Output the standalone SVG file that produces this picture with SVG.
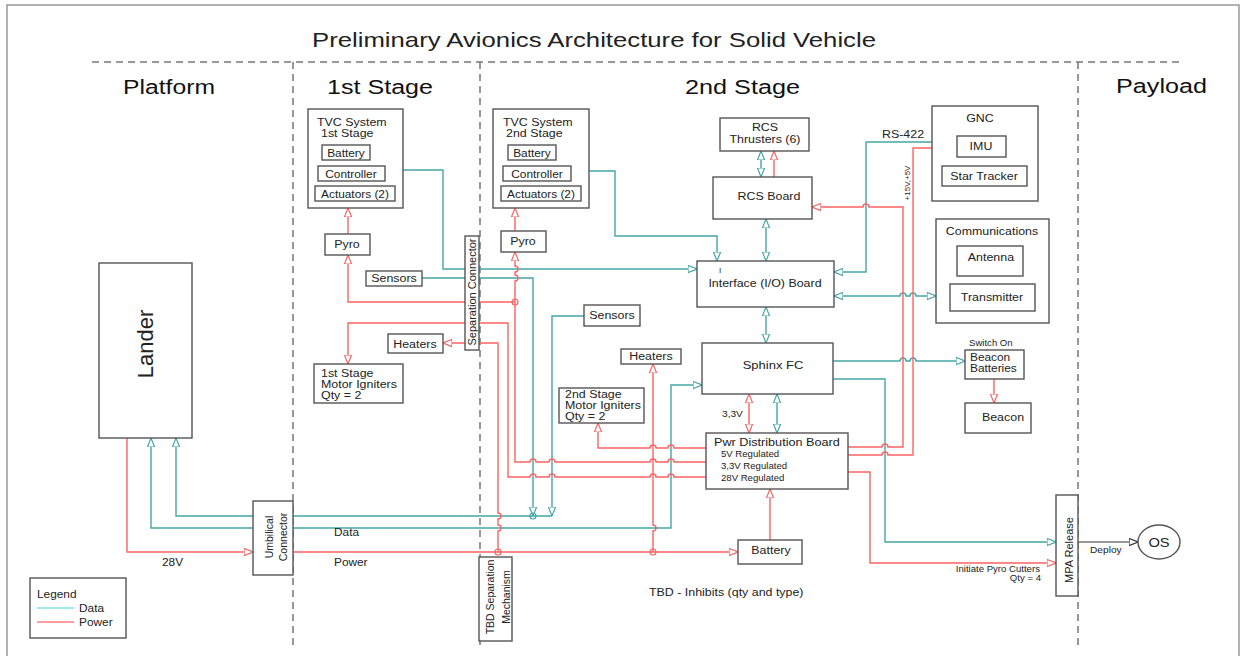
<svg xmlns="http://www.w3.org/2000/svg" width="1243" height="656" viewBox="0 0 1243 656">
<style>
.box{fill:#fff;stroke:#555;stroke-width:1.4}
.t{font-family:"Liberation Sans",Arial,sans-serif;font-size:11px;fill:#222}
.s{font-size:8.5px}
.c{text-anchor:middle}
.h{font-size:20px;fill:#111}
.w{transform-box:fill-box;transform-origin:50% 50%;transform:scaleX(1.13)}
.wl{transform-box:fill-box;transform-origin:0% 50%;transform:scaleX(1.13)}
.wr{transform-box:fill-box;transform-origin:100% 50%;transform:scaleX(1.13)}
.d{fill:none;stroke:#45a6a6;stroke-width:1.4}
.p{fill:none;stroke:#ff6262;stroke-width:1.4}
.k{fill:none;stroke:#333;stroke-width:1.2}
.dash{fill:none;stroke:#777;stroke-width:1.5;stroke-dasharray:7,5}
</style>
<defs>
<marker id="ad" viewBox="0 0 10 10" refX="10" refY="5" markerWidth="9" markerHeight="9" markerUnits="userSpaceOnUse" orient="auto-start-reverse"><path d="M0,1 L10,5 L0,9 z" fill="#fff" stroke="#45a6a6" stroke-width="1.3"/></marker>
<marker id="ap" viewBox="0 0 10 10" refX="10" refY="5" markerWidth="9" markerHeight="9" markerUnits="userSpaceOnUse" orient="auto-start-reverse"><path d="M0,1 L10,5 L0,9 z" fill="#fff" stroke="#ff6262" stroke-width="1.3"/></marker>
<marker id="ak" viewBox="0 0 10 10" refX="10" refY="5" markerWidth="9" markerHeight="9" markerUnits="userSpaceOnUse" orient="auto-start-reverse"><path d="M0,1 L10,5 L0,9 z" fill="#fff" stroke="#333" stroke-width="1.3"/></marker>
</defs>
<rect width="1243" height="656" fill="#fff"/>
<path d="M7,660 V5 H1239 V660" fill="none" stroke="#999" stroke-width="1.5"/>
<text class="t" x="312" y="47" style="font-size:21px" textLength="564" lengthAdjust="spacingAndGlyphs">Preliminary Avionics Architecture for Solid Vehicle</text>
<g id="sections">
<path class="dash" d="M92,62 H1180"/>
<path class="dash" d="M293,62 V645"/>
<path class="dash" d="M480,62 V645"/>
<path class="dash" d="M1078,62 V645"/>
<text class="t h" x="123" y="94" textLength="92" lengthAdjust="spacingAndGlyphs">Platform</text>
<text class="t h" x="327" y="94" textLength="106" lengthAdjust="spacingAndGlyphs">1st Stage</text>
<text class="t h" x="685" y="94" textLength="115" lengthAdjust="spacingAndGlyphs">2nd Stage</text>
<text class="t h" x="1116" y="93" textLength="91" lengthAdjust="spacingAndGlyphs">Payload</text>
</g>
<g id="connectors">
<path class="d" d="M253,516 H176 V438" marker-end="url(#ad)"/>
<path class="d" d="M293,516 H552"/>
<path class="d" d="M253,528 H151 V438" marker-end="url(#ad)"/>
<path class="d" d="M293,528 H671 V385 H702" marker-end="url(#ad)"/>
<path class="d" d="M422,278 H533 V516" marker-end="url(#ad)"/>
<path class="d" d="M584,316 H552 V516" marker-end="url(#ad)"/>
<circle cx="533" cy="516" r="3" fill="none" stroke="#45a6a6" stroke-width="1.2"/>
<path class="d" d="M385,170 H443 V269 H697" marker-start="url(#ad)" marker-end="url(#ad)"/>
<path class="d" d="M571,171 H615 V236 H717 V261" marker-start="url(#ad)" marker-end="url(#ad)"/>
<path class="d" d="M761,151 V177" marker-start="url(#ad)" marker-end="url(#ad)"/>
<path class="d" d="M766,219 V261" marker-start="url(#ad)" marker-end="url(#ad)"/>
<path class="d" d="M766,307 V343" marker-start="url(#ad)" marker-end="url(#ad)"/>
<path class="d" d="M777,394 V433" marker-start="url(#ad)" marker-end="url(#ad)"/>
<path class="d" d="M957,142 H866 V272 H834" marker-end="url(#ad)"/>
<path class="d" d="M834,296 H900 a3,3 0 0 1 6,0 H910 a3,3 0 0 1 6,0 H936" marker-start="url(#ad)" marker-end="url(#ad)"/>
<path class="d" d="M833,361 H900 a3,3 0 0 1 6,0 H910 a3,3 0 0 1 6,0 H965" marker-end="url(#ad)"/>
<path class="d" d="M833,379 H885 V542 H1056" marker-end="url(#ad)"/>
<path class="p" d="M127,438 V552 H253" marker-end="url(#ap)"/>
<path class="p" d="M293,552 H738" marker-end="url(#ap)"/>
<circle cx="498" cy="552" r="3" fill="none" stroke="#ff6262" stroke-width="1.2"/>
<circle cx="653" cy="552" r="3" fill="none" stroke="#ff6262" stroke-width="1.2"/>
<path class="p" d="M498,552 V531 a3,3 0 0 0 0,-6 V519 a3,3 0 0 0 0,-6 V343 H443" marker-end="url(#ap)"/>
<path class="p" d="M706,477 H674 a3,3 0 0 0 -6,0 H656 a3,3 0 0 0 -6,0 H555 a3,3 0 0 0 -6,0 H536 a3,3 0 0 0 -6,0 H508 V323 H348 V364" marker-end="url(#ap)"/>
<path class="p" d="M706,462 H674 a3,3 0 0 0 -6,0 H656 a3,3 0 0 0 -6,0 H555 a3,3 0 0 0 -6,0 H536 a3,3 0 0 0 -6,0 H515 V281 a3,3 0 0 0 0,-6 V272 a3,3 0 0 0 0,-6 V252" marker-end="url(#ap)"/>
<path class="p" d="M515,302 H348 V255" marker-end="url(#ap)"/>
<circle cx="515" cy="302" r="3" fill="none" stroke="#ff6262" stroke-width="1.2"/>
<path class="p" d="M515,231 V208" marker-end="url(#ap)"/>
<path class="p" d="M348,234 V208" marker-end="url(#ap)"/>
<path class="p" d="M706,448 H674 a3,3 0 0 0 -6,0 H656 a3,3 0 0 0 -6,0 H598 V423" marker-end="url(#ap)"/>
<path class="p" d="M653,552 V531 a3,3 0 0 0 0,-6 V364" marker-end="url(#ap)"/>
<path class="p" d="M770,540 V489" marker-end="url(#ap)"/>
<path class="p" d="M749,394 V433" marker-start="url(#ap)" marker-end="url(#ap)"/>
<path class="p" d="M774,177 V151" marker-end="url(#ap)"/>
<path class="p" d="M848,447 H882 a3,3 0 0 1 6,0 H903 V207 H869 a3,3 0 0 0 -6,0 H812" marker-end="url(#ap)"/>
<path class="p" d="M848,455 H882 a3,3 0 0 1 6,0 H913 V148 H957" marker-end="url(#ap)"/>
<path class="p" d="M848,472 H870 V563 H1056" marker-end="url(#ap)"/>
<path class="p" d="M994,379 V403" marker-end="url(#ap)"/>
<path class="k" d="M1078,542 H1138" marker-end="url(#ak)"/>
<text class="t wl" x="162" y="566" style="font-size:10.5px">28V</text>
<text class="t wl" x="334" y="536" style="font-size:10.5px">Data</text>
<text class="t wl" x="334" y="566" style="font-size:10.5px">Power</text>
<text class="t wl" x="722" y="417" style="font-size:9px">3,3V</text>
<text class="t wl" x="882" y="138">RS-422</text>
<text class="t s c" transform="translate(910,183) rotate(-90)" style="font-size:8px">+15V,+5V</text>
<text class="t s wl" x="969" y="346">Switch On</text>
<text class="t wl" x="1090" y="553" style="font-size:9px">Deploy</text>
<text class="t s wr" x="1040" y="572" text-anchor="end">Initiate Pyro Cutters</text>
<text class="t s wr" x="1041" y="581" text-anchor="end">Qty = 4</text>
<text class="t wl" x="649" y="596" style="font-size:11px">TBD - Inhibits (qty and type)</text>
</g>
<g id="lander">
<rect class="box" x="99" y="263" width="93" height="175"/>
<text class="t c" transform="translate(153,344) rotate(-90)" style="font-size:22px">Lander</text>
</g>
<g id="tvc1">
<rect class="box" x="308" y="109" width="95" height="99"/>
<text class="t wl" x="317" y="126" style="font-size:11px">TVC System</text>
<text class="t wl" x="321" y="137" style="font-size:11px">1st Stage</text>
<rect class="box" x="322" y="145" width="48" height="15"/>
<text class="t c w" x="346" y="157" style="font-size:10.5px">Battery</text>
<rect class="box" x="318" y="166" width="67" height="15"/>
<text class="t c w" x="351" y="178" style="font-size:10.5px">Controller</text>
<rect class="box" x="315" y="186" width="80" height="15"/>
<text class="t c w" x="355" y="198" style="font-size:10.5px">Actuators (2)</text>
</g>
<g id="tvc2">
<rect class="box" x="493" y="109" width="96" height="99"/>
<text class="t wl" x="503" y="126" style="font-size:11px">TVC System</text>
<text class="t wl" x="506" y="137" style="font-size:11px">2nd Stage</text>
<rect class="box" x="508" y="145" width="48" height="15"/>
<text class="t c w" x="532" y="157" style="font-size:10.5px">Battery</text>
<rect class="box" x="503" y="166" width="68" height="15"/>
<text class="t c w" x="537" y="178" style="font-size:10.5px">Controller</text>
<rect class="box" x="501" y="186" width="80" height="15"/>
<text class="t c w" x="541" y="198" style="font-size:10.5px">Actuators (2)</text>
</g>
<g id="pyro1"><rect class="box" x="325" y="234" width="45" height="21"/><text class="t c w" x="347" y="248">Pyro</text></g>
<g id="pyro2"><rect class="box" x="501" y="231" width="45" height="21"/><text class="t c w" x="523" y="245">Pyro</text></g>
<g id="sensors1"><rect class="box" x="366" y="271" width="56" height="15"/><text class="t c w" x="394" y="282">Sensors</text></g>
<g id="sepconn"><rect class="box" x="465" y="236" width="14" height="114"/><text class="t c" transform="translate(476,292) rotate(-90)">Separation Connector</text></g>
<g id="heaters1"><rect class="box" x="388" y="334" width="55" height="19"/><text class="t c w" x="415" y="348">Heaters</text></g>
<g id="igniters1"><rect class="box" x="314" y="364" width="89" height="39"/>
<text class="t wl" x="321" y="377">1st Stage</text><text class="t wl" x="321" y="388">Motor Igniters</text><text class="t wl" x="321" y="399">Qty = 2</text></g>
<g id="sensors2"><rect class="box" x="584" y="305" width="56" height="21"/><text class="t c w" x="612" y="319">Sensors</text></g>
<g id="heaters2"><rect class="box" x="621" y="349" width="60" height="15"/><text class="t c w" x="651" y="360">Heaters</text></g>
<g id="igniters2"><rect class="box" x="559" y="388" width="85" height="35"/>
<text class="t wl" x="565" y="398">2nd Stage</text><text class="t wl" x="565" y="409">Motor Igniters</text><text class="t wl" x="565" y="420">Qty = 2</text></g>
<g id="rcsthrusters"><rect class="box" x="720" y="118" width="89" height="33"/>
<text class="t c w" x="765" y="131">RCS</text><text class="t c w" x="765" y="143">Thrusters (6)</text></g>
<g id="rcsboard"><rect class="box" x="713" y="177" width="99" height="42"/><text class="t c w" x="769" y="200">RCS Board</text></g>
<g id="interface"><rect class="box" x="697" y="261" width="137" height="46"/>
<text class="t" x="719" y="273" style="font-size:8px">I</text>
<text class="t c w" x="765" y="287">Interface (I/O) Board</text></g>
<g id="sphinx"><rect class="box" x="702" y="343" width="131" height="51"/><text class="t c w" x="773" y="369" style="font-size:11.5px">Sphinx FC</text></g>
<g id="pwrdist"><rect class="box" x="706" y="433" width="142" height="56"/>
<text class="t wl" x="714" y="446" style="font-size:11.2px">Pwr Distribution Board</text>
<text class="t s wl" x="721" y="457">5V Regulated</text>
<text class="t s wl" x="721" y="469">3,3V Regulated</text>
<text class="t s wl" x="721" y="481">28V Regulated</text></g>
<g id="battery"><rect class="box" x="738" y="540" width="64" height="24"/><text class="t c w" x="771" y="554">Battery</text></g>
<g id="gnc"><rect class="box" x="932" y="106" width="106" height="95"/>
<text class="t c w" x="980" y="122">GNC</text>
<rect class="box" x="957" y="136" width="49" height="21"/><text class="t c w" x="981" y="150">IMU</text>
<rect class="box" x="942" y="166" width="85" height="20"/><text class="t c w" x="984" y="180">Star Tracker</text></g>
<g id="comms"><rect class="box" x="936" y="219" width="113" height="104"/>
<text class="t c w" x="992" y="235">Communications</text>
<rect class="box" x="957" y="246" width="66" height="30"/><text class="t c w" x="991" y="261">Antenna</text>
<rect class="box" x="950" y="284" width="85" height="27"/><text class="t c w" x="992" y="301">Transmitter</text></g>
<g id="beaconbatt"><rect class="box" x="965" y="350" width="59" height="29"/>
<text class="t wl" x="970" y="361" style="font-size:10.5px">Beacon</text><text class="t wl" x="970" y="372" style="font-size:10.5px">Batteries</text></g>
<g id="beacon"><rect class="box" x="965" y="403" width="66" height="30"/><text class="t c w" x="1003" y="421">Beacon</text></g>
<g id="mpa"><rect class="box" x="1056" y="495" width="22" height="101"/><text class="t c" transform="translate(1073,550) rotate(-90)">MPA Release</text></g>
<g id="os"><ellipse cx="1159" cy="542" rx="21" ry="17" fill="#fff" stroke="#555" stroke-width="1.4"/><text class="t c w" x="1159" y="547" style="font-size:13px">OS</text></g>
<g id="umbilical"><rect class="box" x="253" y="501" width="40" height="74"/>
<text class="t c" transform="translate(273,537) rotate(-90)" style="font-size:10.5px"><tspan x="0" dy="0">Umbilical</tspan><tspan x="0" dy="14">Connector</tspan></text></g>
<g id="tbdsep"><rect class="box" x="479" y="557" width="33" height="84"/>
<text class="t c" transform="translate(494,597) rotate(-90)" style="font-size:10.5px"><tspan x="0" dy="0">TBD Separation</tspan><tspan x="0" dy="16">Mechanism</tspan></text></g>
<g id="legend"><rect class="box" x="30" y="578" width="96" height="60"/>
<text class="t wl" x="37" y="598" style="font-size:10.5px">Legend</text>
<line x1="37" y1="608" x2="74" y2="608" stroke="#7fe3ea" stroke-width="1.6"/>
<text class="t wl" x="79" y="612" style="font-size:10.5px">Data</text>
<line x1="37" y1="622" x2="74" y2="622" stroke="#ff7b7b" stroke-width="1.6"/>
<text class="t wl" x="79" y="626" style="font-size:10.5px">Power</text></g>
</svg>
